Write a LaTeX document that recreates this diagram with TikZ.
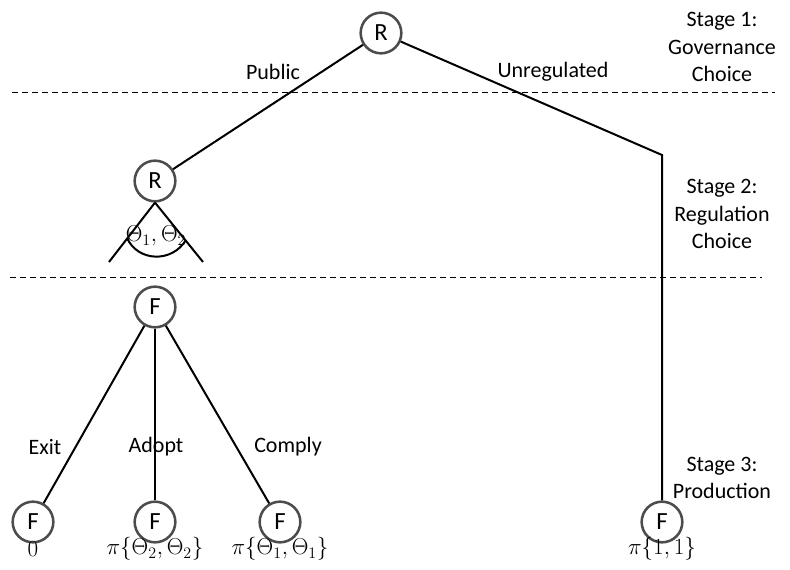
\documentclass[tikz,border=0pt]{standalone}
\usepackage{fontspec}
\setmainfont{Carlito}
\begin{document}
\begin{tikzpicture}[x=0.75pt,y=-0.75pt,
  player/.style={circle,draw=black!70,line width=1.9pt,minimum size=30.5pt,inner sep=0pt,font=\fontsize{18.5}{22}\selectfont},
  branch/.style={line width=1.5pt,black},
  stagesep/.style={dashed,line width=0.7pt,dash pattern=on 4.5pt off 3pt},
  lbl/.style={font=\fontsize{16.5}{20}\selectfont,inner sep=0pt},
  payoff/.style={font=\fontsize{16.5}{20}\selectfont,inner sep=0pt},
  stagetxt/.style={font=\fontsize{16.5}{20.3}\selectfont,align=center,inner sep=0pt}]
\useasboundingbox (0,0) rectangle (790,570);

% stage separators
\draw[stagesep] (12,92) -- (775,92);
\draw[stagesep] (10,277) -- (762,277);

% decision nodes
\node[player] (root) at (381,33) {R};
\node[player] (reg)  at (155,181) {R};
\node[player] (firm) at (155,307) {F};
\node[player] (exit)   at (33,522)  {F};
\node[player] (adopt)  at (155,522) {F};
\node[player] (comply) at (280,522) {F};
\node[player] (unreg)  at (662,522) {F};
\coordinate (bend) at (662,155);

% governance choice
\draw[branch] (root) -- (reg);
\draw[branch] (root) -- (bend) -- (unreg);
\node[lbl] (public) at (273,72) {Public};
\node[lbl] (unregl) at (553,72) {Unregulated};

% regulation choice: continuum of standards
\coordinate (rl) at (109,262);
\coordinate (rr) at (203,262);
\draw[branch] (reg.south) -- (rl);
\draw[branch] (reg.south) -- (rr);
\draw[branch] (127,238) .. controls (138,262) and (172,263) .. (186,240);
\node[payoff] (theta) at (156,236) {$\Theta_1,\Theta_2$};

% production
\draw[branch] (firm) -- (exit);
\draw[branch] (firm) -- (adopt);
\draw[branch] (firm) -- (comply);
\node[lbl] (lexit)   at (45,447)  {Exit};
\node[lbl] (ladopt)  at (156,447) {Adopt};
\node[lbl] (lcomply) at (288,447) {Comply};

% payoffs
\node[payoff] (p0) at (33,549)  {$0$};
\node[payoff] (p1) at (155,549) {$\pi\{\Theta_2,\Theta_2\}$};
\node[payoff] (p2) at (280,549) {$\pi\{\Theta_1,\Theta_1\}$};
\node[payoff] (p3) at (662,549) {$\pi\{1,1\}$};

% stage labels
\node[stagetxt] (s1) at (722,47)  {Stage 1:\\Governance\\Choice};
\node[stagetxt] (s2) at (722,214) {Stage 2:\\Regulation\\Choice};
\node[stagetxt] (s3) at (722,478) {Stage 3:\\Production};
\end{tikzpicture}
\end{document}
